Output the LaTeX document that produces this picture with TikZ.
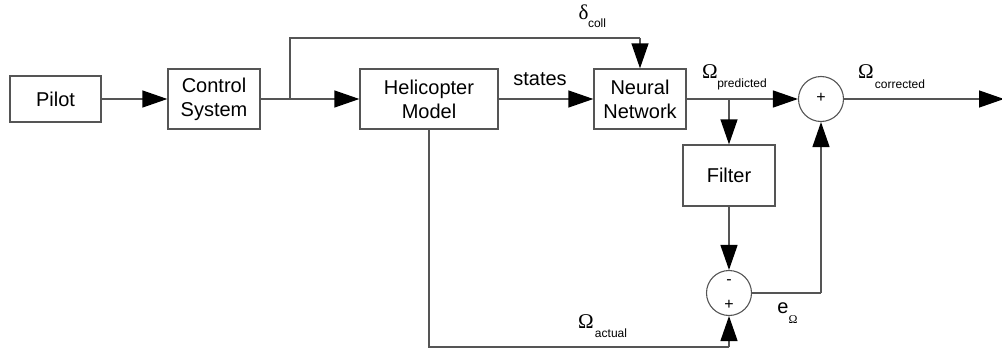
\documentclass[tikz,border=0pt]{standalone}
\usepackage{fontspec}
\setmainfont{Liberation Sans}
\newfontfamily\serifgr{Liberation Serif}
\usetikzlibrary{arrows.meta}
\definecolor{lgray}{RGB}{85,85,85}
\tikzset{
  blk/.style={draw=lgray, line width=1.3pt, rectangle, inner sep=0pt, align=center,
    font=\fontsize{20}{24}\selectfont},
  sumnode/.style={draw=lgray, line width=1.1pt, circle, inner sep=0pt, minimum size=45pt},
  conn/.style={draw=lgray, line width=1.3pt},
  arr/.style={conn, -{Triangle[length=25pt,width=17pt,color=black]}},
  lbl/.style={inner sep=0pt, anchor=base, font=\fontsize{20}{24}\selectfont},
  sym/.style={inner sep=0pt, font=\serifgr\fontsize{21}{24}\selectfont},
  sub/.style={inner sep=0pt, font=\fontsize{12}{14}\selectfont},
}
\begin{document}
\begin{tikzpicture}[x=1pt,y=-1pt]
\useasboundingbox (0,0) rectangle (1002,348);
% blocks
\node[blk, minimum width=91pt, minimum height=46pt] (pilot) at (55.5,99) {Pilot};
\node[blk, minimum width=92pt, minimum height=60pt] (cs) at (214,99) {Control\\System};
\node[blk, minimum width=138pt, minimum height=60pt] (hm) at (429,99) {Helicopter\\Model};
\node[blk, minimum width=92pt, minimum height=60pt] (nn) at (640,99) {Neural\\Network};
\node[blk, minimum width=92pt, minimum height=61pt] (filt) at (729,175.5) {Filter};
\node[sumnode] (s1) at (821,99) {};
\node[sumnode] (s2) at (729,293) {};
\node[inner sep=0pt, font=\fontsize{16}{16}\selectfont] (s1p) at (821,98) {+};
\node[inner sep=0pt, font=\fontsize{16}{16}\selectfont] (s2m) at (729,282) {-};
\node[inner sep=0pt, font=\fontsize{16}{16}\selectfont] (s2p) at (729,305) {+};
% coordinates
\coordinate (b1) at (290,99);
\coordinate (b1t) at (290,38);
\coordinate (nnt) at (640,38);
\coordinate (b2) at (729,99);
\coordinate (out) at (1004,99);
\coordinate (hmb) at (429,347);
\coordinate (s2b) at (729,347);
\coordinate (ecor) at (821,293);
% connectors
\draw[arr] (pilot.east) -- (cs.west);
\draw[arr] (cs.east) -- (hm.west);
\draw[conn] (b1) -- (b1t) -- (nnt);
\draw[arr] (nnt) -- (nn.north);
\draw[arr] (hm.east) -- (nn.west);
\draw[arr] (nn.east) -- (s1.west);
\draw[arr] (b2) -- (filt.north);
\draw[arr] (s1.east) -- (out);
\draw[arr] (filt.south) -- (s2.north);
\draw[conn] (s2.east) -- (ecor);
\draw[arr] (ecor) -- (s1.south);
\draw[conn] (hm.south) -- (hmb) -- (s2b);
\draw[arr] (s2b) -- (s2.south);
% labels
\node[sym] (dl) at (583.5,12) {δ};
\node[sub] (dls) at (597,23) {coll};
\node[lbl] (st) at (540,85) {states};
\node[sym] (op) at (710,72) {Ω};
\node[sub] (ops) at (742,84) {predicted};
\node[sym] (oc) at (866,72) {Ω};
\node[sub] (ocs) at (900,84) {corrected};
\node[sym] (oa) at (586,322) {Ω};
\node[sub] (oas) at (611,333) {actual};
\node[lbl] (e) at (783,313) {e};
\node[inner sep=0pt, font=\serifgr\fontsize{12}{14}\selectfont] (es) at (793,320) {Ω};
\end{tikzpicture}
\end{document}
